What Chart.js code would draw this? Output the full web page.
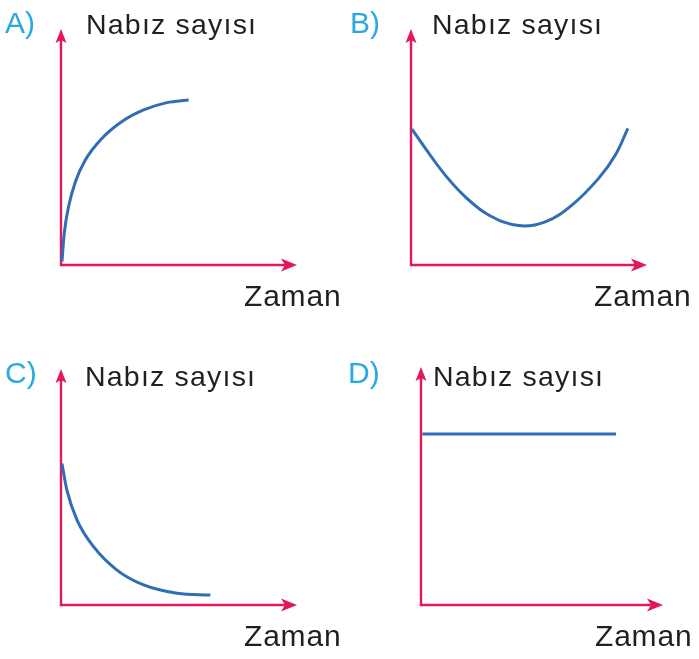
<!DOCTYPE html>
<html>
<head>
<meta charset="utf-8">
<script src="https://cdn.jsdelivr.net/npm/chart.js@4.4.0/dist/chart.umd.min.js"></script>
<style>
  html, body { margin: 0; padding: 0; background: #fff; }
  #page { position: relative; width: 699px; height: 659px; overflow: hidden; }
  #page canvas { position: absolute; left: 0; top: 0; }
  .txt { position: absolute; white-space: nowrap; line-height: 1; font-family: "Liberation Sans", Arial, Helvetica, sans-serif; }
  .letter { color: #29a9e1; font-size: 30px; }
  .ylab { color: #231f20; font-size: 28.5px; letter-spacing: 1.2px; }
  .xlab { color: #231f20; font-size: 30px; letter-spacing: 0.8px; }
</style>
</head>
<body>
<div id="page"></div>
<script>
// Qualitative curves: time (0-10) vs pulse (0-10)
var panelNames = ["A)", "B)", "C)", "D)"];
var yTitle = "Nabız sayısı";
var xTitle = "Zaman";

var timeA  = [0.04, 0.14, 0.32, 0.61, 1.03, 1.67, 2.51, 3.50, 4.49, 5.41];
var pulseA = [0.14, 1.36, 2.47, 3.53, 4.45, 5.30, 6.03, 6.57, 6.88, 6.99];

var timeB  = [0.04, 0.61, 1.45, 2.30, 3.29, 4.56, 5.69, 6.82, 7.95, 8.66, 9.19];
var pulseB = [5.76, 4.94, 3.81, 2.89, 2.12, 1.67, 1.83, 2.54, 3.67, 4.66, 5.79];

var timeC  = [0.04, 0.25, 0.68, 1.38, 2.37, 3.50, 4.92, 6.33];
var pulseC = [6.00, 4.87, 3.60, 2.47, 1.48, 0.85, 0.50, 0.42];

var timeD  = [0.06, 8.06];
var pulseD = [7.18, 7.18];

var AXIS_COLOR = "#e2185b";
var LINE_COLOR = "#2f6db5";

// layout of the four small charts on the page
var panels = [
  { time: timeA, pulse: pulseA, mode: 'monotone', pad: {left: 61, top: 29, right: 402, bottom: 394},
    letter: [5, 8], ylab: [86, 10], xlab: [244, 281] },
  { time: timeB, pulse: pulseB, mode: 'default', pad: {left: 411, top: 29, right: 52, bottom: 394},
    letter: [350, 8], ylab: [432, 10], xlab: [594, 281] },
  { time: timeC, pulse: pulseC, mode: 'monotone', pad: {left: 61, top: 369, right: 402, bottom: 54},
    letter: [5, 358], ylab: [85, 362], xlab: [244, 621] },
  { time: timeD, pulse: pulseD, mode: 'default', pad: {left: 421, top: 367, right: 36, bottom: 54},
    letter: [348, 358], ylab: [433, 362], xlab: [595, 621] }
];

var axisArrows = {
  id: 'axisArrows',
  beforeDatasetsDraw: function (chart) {
    var ctx = chart.ctx, x = chart.scales.x, y = chart.scales.y;
    var x0 = x.getPixelForValue(0), y0 = y.getPixelForValue(0);
    var xEnd = x.getPixelForValue(x.max), yEnd = y.getPixelForValue(y.max);
    ctx.save();
    ctx.strokeStyle = AXIS_COLOR;
    ctx.fillStyle = AXIS_COLOR;
    ctx.lineWidth = 2.4;
    ctx.beginPath();
    ctx.moveTo(x0, yEnd + 10);
    ctx.lineTo(x0, y0);
    ctx.lineTo(xEnd - 10, y0);
    ctx.stroke();
    // arrow heads
    ctx.beginPath();
    ctx.moveTo(x0, yEnd);
    ctx.lineTo(x0 - 5.5, yEnd + 14);
    ctx.lineTo(x0, yEnd + 11);
    ctx.lineTo(x0 + 5.5, yEnd + 14);
    ctx.closePath();
    ctx.fill();
    ctx.beginPath();
    ctx.moveTo(xEnd, y0);
    ctx.lineTo(xEnd - 16, y0 - 6.5);
    ctx.lineTo(xEnd - 12, y0);
    ctx.lineTo(xEnd - 16, y0 + 6.5);
    ctx.closePath();
    ctx.fill();
    ctx.restore();
  }
};

var page = document.getElementById('page');

function addText(cls, text, pos) {
  var d = document.createElement('div');
  d.className = 'txt ' + cls;
  d.textContent = text;
  d.style.left = pos[0] + 'px';
  d.style.top = pos[1] + 'px';
  page.appendChild(d);
}

panels.forEach(function (p, i) {
  var canvas = document.createElement('canvas');
  canvas.width = 699;
  canvas.height = 659;
  page.appendChild(canvas);

  new Chart(canvas, {
    type: 'line',
    data: {
      datasets: [{
        data: p.time.map(function (t, k) { return {x: t, y: p.pulse[k]}; }),
        borderColor: LINE_COLOR,
        borderWidth: 3,
        pointRadius: 0,
        fill: false,
        cubicInterpolationMode: p.mode,
        tension: 0.4,
        clip: false
      }]
    },
    options: {
      responsive: false,
      animation: false,
      devicePixelRatio: 1,
      layout: { padding: p.pad },
      plugins: { legend: { display: false }, tooltip: { enabled: false } },
      scales: {
        x: { type: 'linear', min: 0, max: 10, display: false },
        y: { type: 'linear', min: 0, max: 10, display: false }
      }
    },
    plugins: [axisArrows]
  });

  addText('letter', panelNames[i], p.letter);
  addText('ylab', yTitle, p.ylab);
  addText('xlab', xTitle, p.xlab);
});
</script>
</body>
</html>
